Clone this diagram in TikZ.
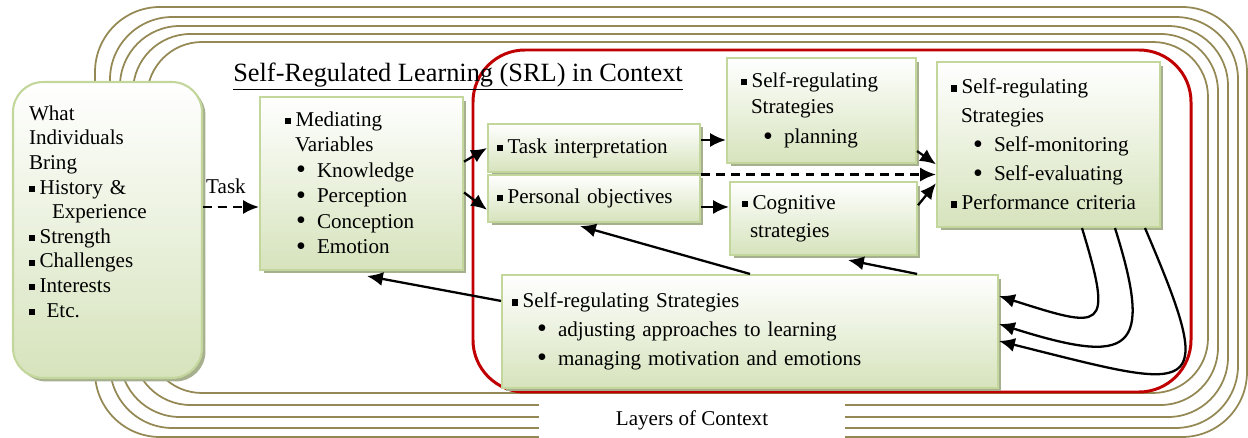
\documentclass[tikz,border=0pt]{standalone}
\usepackage{fontspec}
\setmainfont{Liberation Serif}
\usetikzlibrary{positioning, arrows.meta, shadows}

\definecolor{layerline}{RGB}{148,137,84}
\definecolor{ctxred}{RGB}{192,0,0}
\definecolor{boxline}{RGB}{195,214,155}
\definecolor{boxgreen}{RGB}{214,227,188}
\definecolor{boxshadow}{RGB}{166,176,143}

\newcommand{\sqb}{\rule[0.1em]{0.3em}{0.3em}\hspace{0.2em}}
\newcommand{\rbul}[1]{\makebox[#1][r]{\raisebox{-0.06em}{\fontsize{16}{16}\selectfont\textbullet}\hspace{0.22cm}}}

\tikzstyle{srlbox} = [rectangle, draw=boxline, line width=1.2pt, top color=white, bottom color=boxgreen, drop shadow={shadow xshift=0.07cm, shadow yshift=-0.07cm, fill=boxshadow, opacity=1}, align=left, inner ysep=0pt, font=\fontsize{12}{14.5}\selectfont]
\tikzstyle{layer} = [draw=layerline, line width=1pt]
\tikzstyle{arrow} = [line width=1.3pt, -{Latex[length=9pt, width=8pt]}]
\tikzstyle{dasharrow} = [arrow, dash pattern=on 5pt off 3.5pt]

\begin{document}
\begin{tikzpicture}[x=0.02cm, y=-0.02cm]
\useasboundingbox (0,0) rectangle (1248,438);

%Layers of context
\foreach \l/\t/\r/\b/\rad in {147/42/1208/393/1.1, 133/34/1218/405/1.15, 120/26/1228/417/1.2, 110/17/1238/428/1.25, 95/7/1247/437/1.3}
  \draw [layer, rounded corners=\rad cm] (\l,\t) rectangle (\r,\b);
\node (ctxlbl) [fill=white, minimum width=6.12cm, minimum height=0.84cm, font=\fontsize{12}{14}\selectfont] at (692,420) {Layers of Context};

%SRL frame
\draw [ctxred, line width=1.7pt, rounded corners=1.04cm] (473,50) rectangle (1191,392);
\node (title) [font=\fontsize{15}{18}\selectfont] at (458,77) {\underline{Self-Regulated Learning (SRL) in Context}};

%Boxes
\node (bring) [srlbox, rounded corners=0.6cm, inner xsep=0.32cm, text width=3.14cm, minimum height=5.92cm, font=\fontsize{12}{14}\selectfont] at (107.5,230)
  {What\\ Individuals\\ Bring\\ \sqb History \&\\ \hspace*{0.46cm}Experience\\ \sqb Strength\\ \sqb Challenges\\ \sqb Interests\\ \sqb\ Etc.\\[0.25cm]\mbox{}};
\node (mediate) [srlbox, inner xsep=0.5cm, text width=3.06cm, minimum height=3.46cm] at (361.5,183.5)
  {\sqb Mediating\\ \hspace*{0.2cm}Variables\\ \rbul{0.64cm}Knowledge\\ \rbul{0.64cm}Perception\\ \rbul{0.64cm}Conception\\ \rbul{0.64cm}Emotion};
\node (taskint) [srlbox, inner xsep=0.18cm, text width=3.88cm, minimum height=0.96cm] at (594,148) {\sqb Task interpretation};
\node (persobj) [srlbox, inner xsep=0.18cm, text width=3.88cm, minimum height=0.94cm] at (594,198.5) {\sqb Personal objectives};
\node (planning) [srlbox, inner xsep=0.28cm, text width=3.22cm, minimum height=2.1cm] at (821.5,110.5)
  {\sqb Self-regulating\\ \hspace*{0.2cm}Strategies\\[3pt] \rbul{0.86cm}planning};
\node (cognitive) [srlbox, inner xsep=0.24cm, text width=3.26cm, minimum height=1.46cm, font=\fontsize{12}{16}\selectfont] at (823.5,218.5)
  {\sqb Cognitive\\ \hspace*{0.16cm}strategies};
\node (monitor) [srlbox, inner xsep=0.28cm, text width=3.9cm, minimum height=3.3cm, font=\fontsize{12}{16.5}\selectfont] at (1048.5,144.5)
  {\sqb Self-regulating\\ \hspace*{0.2cm}Strategies\\ \rbul{0.86cm}Self-monitoring\\ \rbul{0.86cm}Self-evaluating\\ \sqb Performance criteria};
\node (adjust) [srlbox, inner xsep=0.2cm, text width=9.52cm, minimum height=2.26cm, font=\fontsize{12}{16.5}\selectfont] at (750,331.5)
  {\sqb Self-regulating Strategies\\ \rbul{0.92cm}adjusting approaches to learning\\ \rbul{0.92cm}managing motivation and emotions};
\node (tasklbl) [font=\fontsize{12}{14}\selectfont] at (226,186) {Task};

%arrows
\coordinate (taskout) at ([yshift=0.46cm]bring.east);
\coordinate (tiout) at ([yshift=0.16cm]taskint.east);
\coordinate (poout) at ([yshift=-0.17cm]persobj.east);
\coordinate (dashstart) at ([yshift=-0.03cm]taskint.south east);
\draw [dasharrow] (taskout) -- (taskout -| mediate.west);
\draw [arrow] (mediate.12) -- (taskint.west);
\draw [arrow] (mediate.-5) -- (persobj.186);
\draw [arrow] (tiout) -- (tiout -| planning.west);
\draw [arrow] (poout) -- (poout -| cognitive.west);
\draw [dasharrow] (dashstart) -- (dashstart -| monitor.west);
\draw [arrow] (planning.-23) -- (monitor.190);
\draw [arrow] (cognitive.8) -- (monitor.199);
\draw [arrow] (adjust.north) -- ([xshift=-0.28cm, yshift=-0.06cm]persobj.south);
\draw [arrow] (adjust.19.4) -- ([xshift=0.49cm, yshift=-0.08cm]cognitive.south);
\draw [arrow] (adjust.173) -- ([xshift=0.11cm, yshift=-0.1cm]mediate.south);
\draw [arrow] ([xshift=0.67cm]monitor.south) .. controls +(32,105) and +(104,33) .. ([yshift=0.71cm]adjust.east);
\draw [arrow] ([xshift=1.33cm]monitor.south) .. controls +(39,124) and +(133,42) .. ([yshift=0.15cm]adjust.east);
\draw [arrow] ([xshift=1.93cm]monitor.south) .. controls +(75,175) and +(200,50) .. ([yshift=-0.19cm]adjust.east);

\end{tikzpicture}
\end{document}
